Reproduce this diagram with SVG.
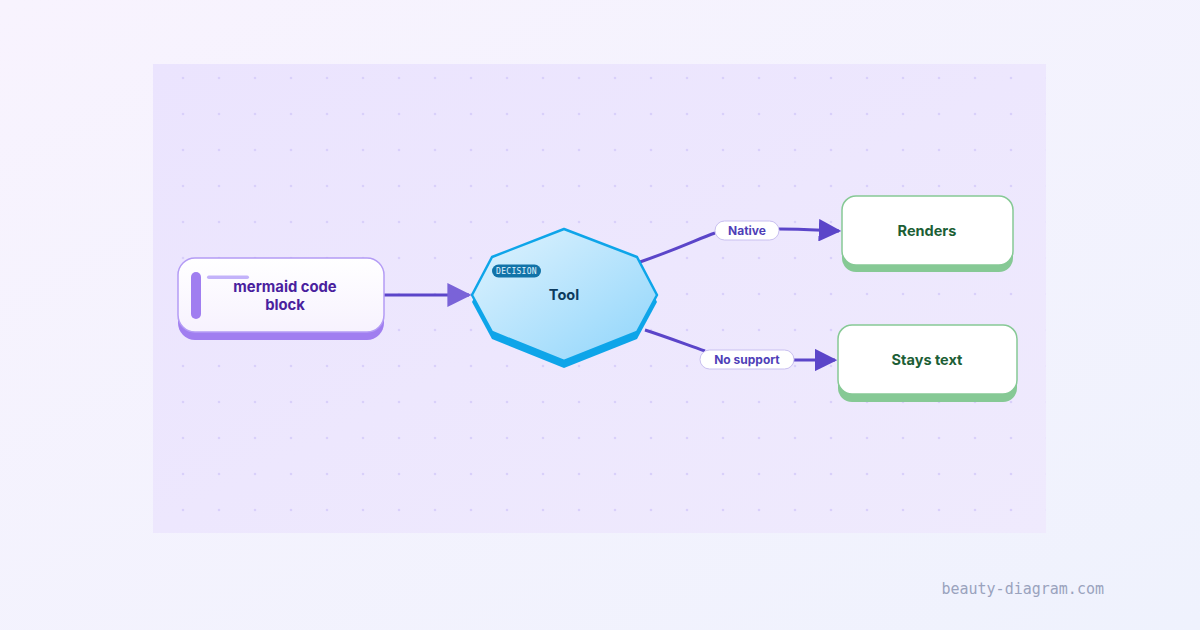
<svg xmlns="http://www.w3.org/2000/svg" width="1200" height="630" viewBox="0 0 1200 630">
<defs>
<linearGradient id="bg" x1="0" y1="0" x2="1" y2="1"><stop offset="0" stop-color="#f8f3fe"/><stop offset="1" stop-color="#eff2fd"/></linearGradient>
<linearGradient id="panel" x1="0" y1="0" x2="1" y2="1"><stop offset="0" stop-color="#ebe4fe"/><stop offset="1" stop-color="#efeafd"/></linearGradient>
<linearGradient id="oct" x1="0" y1="0" x2="1" y2="1"><stop offset="0" stop-color="#e0f3fe"/><stop offset="1" stop-color="#8fd5fb"/></linearGradient>
<linearGradient id="src" x1="0" y1="0" x2="0" y2="1"><stop offset="0" stop-color="#ffffff"/><stop offset="1" stop-color="#f7f2fe"/></linearGradient>
<pattern id="dots" x="165" y="60" width="36" height="36" patternUnits="userSpaceOnUse"><circle cx="18" cy="18" r="1.3" fill="#d9d0fa"/></pattern>
<marker id="arr" viewBox="0 0 10 10" refX="9" refY="5" markerWidth="7.5" markerHeight="7.5" orient="auto" markerUnits="strokeWidth"><path d="M0,0 L10,5 L0,10 z" fill="#5b45c9"/></marker>
<marker id="arr2" viewBox="0 0 10 10" refX="9" refY="5" markerWidth="8" markerHeight="8" orient="auto" markerUnits="strokeWidth"><path d="M0,0 L10,5 L0,10 z" fill="#7a63d8"/></marker>
<style>
.t{font-family:Inter,"Liberation Sans",sans-serif;font-weight:700;text-anchor:middle}
.edge{fill:none;stroke:#5b45c9;stroke-width:3}
.pill{fill:#ffffff;stroke:#c9c0f0;stroke-width:1}
.pt{font-family:Inter,"Liberation Sans",sans-serif;font-weight:700;font-size:12px;fill:#4f3fb8;text-anchor:middle}
.gnode{fill:#ffffff;stroke:#86c995;stroke-width:1.5}
.gsh{fill:#86c995}
.gt{font-family:Inter,"Liberation Sans",sans-serif;font-weight:700;font-size:14.5px;fill:#1c5e35;text-anchor:middle}
</style>
</defs>
<rect width="1200" height="630" fill="url(#bg)"/>
<rect x="153" y="64" width="893" height="469" fill="url(#panel)"/>
<rect x="153" y="64" width="893" height="469" fill="url(#dots)"/>

<g id="connectors">
<path class="edge" d="M384,295 L469,295" stroke="#7a63d8" stroke-width="2.5" marker-end="url(#arr2)"/>
<path class="edge" d="M640,262 C680,248 700,238 715,233" />
<path class="edge" d="M779,229 C800,229 815,230 839,231" marker-end="url(#arr)"/>
<path class="edge" d="M645,330 C670,338 690,346 705,351"/>
<path class="edge" d="M794,360 C810,360 820,360 835,360" marker-end="url(#arr)"/>
<g id="label-native">
<rect class="pill" x="715" y="221" width="64" height="19" rx="9.5"/>
<text class="pt" x="747" y="234.5">Native</text>
</g>
<g id="label-nosupport">
<rect class="pill" x="700" y="350" width="94" height="19" rx="9.5"/>
<text class="pt" x="747" y="363.5">No support</text>
</g>
</g>

<g id="node-mermaid">
<rect x="178" y="266" width="206" height="74" rx="17" fill="#a07ef0"/>
<rect x="178" y="258" width="206" height="74" rx="17" fill="url(#src)" stroke="#b49cf5" stroke-width="1.5"/>
<rect x="191" y="272" width="10" height="47" rx="5" fill="#a07ef0"/>
<rect x="207" y="275.5" width="42" height="3.5" rx="1.75" fill="#c3b2fa"/>
<text class="t" x="285" y="292" font-size="14.8" fill="#4a1f9e">mermaid code</text>
<text class="t" x="285" y="310" font-size="14.8" fill="#4a1f9e">block</text>
</g>

<g id="node-tool">
<polygon points="564,236 637,264 657,302 637,339 564,368 492,339 472,302 492,264" fill="#0ea5e9"/>
<polygon points="564,229 637,257 657,295 637,332 564,361 492,332 472,295 492,257" fill="url(#oct)" stroke="#0ea5e9" stroke-width="2.5" stroke-linejoin="round"/>
<rect x="492" y="264.5" width="49" height="13" rx="6.5" fill="#1273a8"/>
<text x="516.5" y="274.3" font-family="'DejaVu Sans Mono','Liberation Mono',monospace" font-size="8" fill="#e0f3fe" text-anchor="middle" letter-spacing="0.3">DECISION</text>
<text class="t" x="564" y="300" font-size="14.5" fill="#0c3b5e">Tool</text>
</g>

<g id="node-renders">
<rect class="gsh" x="842" y="203" width="171" height="69" rx="14"/>
<rect class="gnode" x="842" y="196" width="171" height="69" rx="14"/>
<text class="gt" x="927" y="236">Renders</text>
</g>

<g id="node-stays">
<rect class="gsh" x="838" y="333" width="179" height="69" rx="14"/>
<rect class="gnode" x="838" y="325" width="179" height="69" rx="14"/>
<text class="gt" x="927" y="365">Stays text</text>
</g>

<text x="1104" y="594" font-family="'DejaVu Sans Mono','Liberation Mono',monospace" font-size="15" fill="#9aa3bd" text-anchor="end">beauty-diagram.com</text>
</svg>
